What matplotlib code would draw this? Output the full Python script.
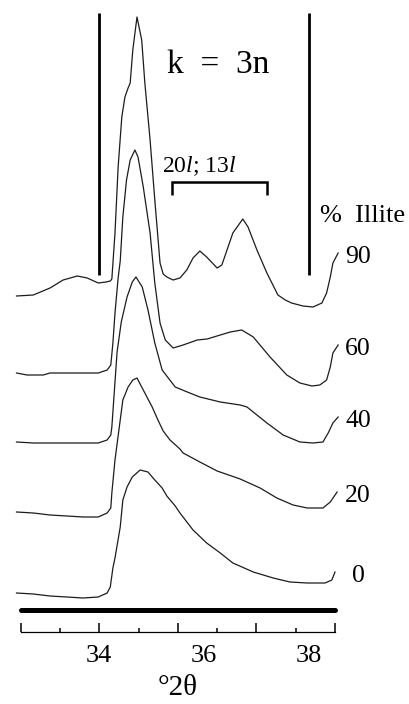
import matplotlib
matplotlib.use("Agg")
import matplotlib.pyplot as plt

plt.rcParams.update({
    "font.family": ["Liberation Serif", "DejaVu Serif"],
    "mathtext.fontset": "custom",
    "mathtext.rm": "Liberation Serif",
    "mathtext.it": "Liberation Serif:italic",
})

# Illite content of each stacked trace (top to bottom) and its vertical offset
illite_pct = [90, 60, 40, 20, 0]
offsets = [336, 259, 190, 120, 39]

# Diffraction traces: position (deg 2-theta) and intensity above each trace's baseline
two_theta_90 = [32.42, 32.74, 33.06, 33.31, 33.58, 33.77, 33.98, 34.13, 34.21, 34.24,
                34.30, 34.36, 34.43, 34.49, 34.55, 34.59, 34.64, 34.72, 34.81, 34.87, 34.97,
                35.06, 35.16, 35.22, 35.29, 35.41, 35.54, 35.67, 35.79, 35.92, 36.05, 36.25,
                36.34, 36.55, 36.74, 36.84, 37.01, 37.20, 37.41, 37.55, 37.67, 37.89, 38.08,
                38.25, 38.34, 38.41, 38.46, 38.56]
intensity_90 = [0, 1, 8, 16, 20, 18, 13, 14, 15, 17,
                63, 129, 179, 199, 208, 213, 246, 279, 256, 213, 156,
                96, 33, 22, 19, 16, 18, 26, 38, 45, 39, 28,
                31, 63, 77, 69, 46, 23, 1, -4, -7, -10, -11,
                -7, 3, 19, 33, 43]

two_theta_60 = [32.42, 32.62, 32.93, 33.06, 33.38, 33.98, 34.15, 34.22, 34.26, 34.30,
                34.36, 34.40, 34.45, 34.52, 34.59, 34.68, 34.74, 34.84, 34.97, 35.06,
                35.16, 35.26, 35.41, 35.60, 35.87, 36.06, 36.31, 36.50, 36.72, 36.94,
                37.26, 37.58, 37.83, 38.06, 38.21, 38.34, 38.41, 38.46, 38.56]
intensity_60 = [0, -2, -2, 0, 0, 0, 3, 8, 30, 60,
                95, 112, 156, 193, 213, 223, 216, 186, 140, 90,
                50, 33, 25, 28, 33, 34, 38, 41, 43, 36,
                16, -2, -10, -13, -12, -7, 6, 20, 28]

two_theta_40 = [32.42, 32.74, 33.38, 33.98, 34.15, 34.22, 34.24, 34.28, 34.34, 34.42,
                34.53, 34.63, 34.70, 34.82, 34.93, 35.06, 35.20, 35.45, 35.68, 35.92,
                36.31, 36.69, 36.82, 37.20, 37.51, 37.83, 38.08, 38.27, 38.37, 38.46,
                38.56]
intensity_40 = [0, -1, -1, -1, 2, 7, 15, 45, 90, 120,
                145, 160, 165, 155, 132, 99, 72, 55, 50, 45,
                40, 37, 35, 19, 7, 0, -1, 0, 9, 19,
                25]

two_theta_20 = [32.42, 32.74, 33.06, 33.38, 33.69, 33.98, 34.15, 34.22, 34.24, 34.30,
                34.40, 34.45, 34.55, 34.64, 34.72, 34.87, 35.01, 35.12, 35.22, 35.35,
                35.54, 35.60, 35.92, 36.25, 36.69, 37.07, 37.39, 37.70, 37.97, 38.27,
                38.41, 38.54]
intensity_20 = [0, -1, -3, -4, -5, -5, -1, 4, 19, 52,
                92, 112, 125, 132, 134, 119, 105, 92, 81, 72,
                63, 59, 50, 41, 33, 24, 14, 7, 4, 4,
                10, 20]

two_theta_0 = [32.42, 32.74, 33.06, 33.38, 33.69, 33.98, 34.15, 34.21, 34.26, 34.30,
               34.40, 34.45, 34.53, 34.63, 34.78, 34.93, 35.06, 35.20, 35.29, 35.45,
               35.54, 35.79, 36.05, 36.31, 36.55, 36.94, 37.32, 37.64, 37.97, 38.31,
               38.44, 38.50]
intensity_0 = [0, -1, -3, -4, -5, -4, 0, 6, 25, 35,
               66, 93, 106, 116, 123, 121, 113, 105, 97, 87,
               80, 63, 50, 40, 30, 21, 15, 11, 10, 10,
               13, 21]

traces_x = [two_theta_90, two_theta_60, two_theta_40, two_theta_20, two_theta_0]
traces_y = [intensity_90, intensity_60, intensity_40, intensity_20, intensity_0]

# Reflection ranges marked on the top trace
k3n_bounds = [34.0, 38.0]
band_20l_13l = [35.38, 37.2]

# Tick layout of the 2-theta scale
long_ticks = [32.5, 34.0, 35.5, 37.0, 38.5]
short_ticks = [33.25, 34.75, 36.25, 37.75]
labelled_ticks = [34, 36, 38]

fig = plt.figure(figsize=(4.09, 7.04), dpi=100)
fig.patch.set_facecolor("white")
ax = fig.add_axes([20.7 / 409, 72 / 704, 314.3 / 409, 632 / 704])
ax.set_xlim(32.5, 38.5)
ax.set_ylim(0, 632)
ax.patch.set_alpha(0)

line_color = "#1c1c1c"
for x, y, off, pct in zip(traces_x, traces_y, offsets, illite_pct):
    yy = [v + off for v in y]
    ax.plot(x, yy, color=line_color, lw=0.9, clip_on=False,
            solid_joinstyle="round")
    ax.text(38.94, yy[-1] - 4, str(pct), ha="center", va="center", fontsize=18.5)

ax.text(39.03, 416, "%  Illite", ha="center", va="center", fontsize=19, clip_on=False)

# k = 3n limits
ax.vlines(k3n_bounds, 357, 619, color="black", lw=2.0)
ax.text(36.27, 559, "k  =  3n", ha="center", va="baseline", fontsize=24)

# 20l; 13l band bracket
bx0, bx1 = band_20l_13l
ax.plot([bx0, bx0, bx1, bx1], [437, 450.5, 450.5, 437], color="black", lw=1.8,
        solid_joinstyle="miter", solid_capstyle="butt")
ax.text(bx0 - 0.18, 459.5, r"20$l$; 13$l$", ha="left", va="baseline", fontsize=17)

# heavy rule above the scale
ax.axhline(22, color="black", lw=3.6, solid_capstyle="round", clip_on=False)

for side in ("left", "right", "top"):
    ax.spines[side].set_visible(False)
ax.spines["bottom"].set_linewidth(0.9)
ax.set_yticks([])
ax.set_xticks(long_ticks)
ax.set_xticks(short_ticks, minor=True)
ax.tick_params(axis="x", which="major", direction="in", length=6.5, width=1.1, labelbottom=False)
ax.tick_params(axis="x", which="minor", direction="in", length=3, width=1.1)

sec = ax.secondary_xaxis("bottom")
sec.set_xticks(labelled_ticks)
sec.tick_params(length=0, pad=9, labelsize=19)
sec.spines["bottom"].set_visible(False)
sec.set_xlabel("°2θ", fontsize=21, labelpad=6)

fig.savefig("out.png", dpi=100, facecolor="white")
